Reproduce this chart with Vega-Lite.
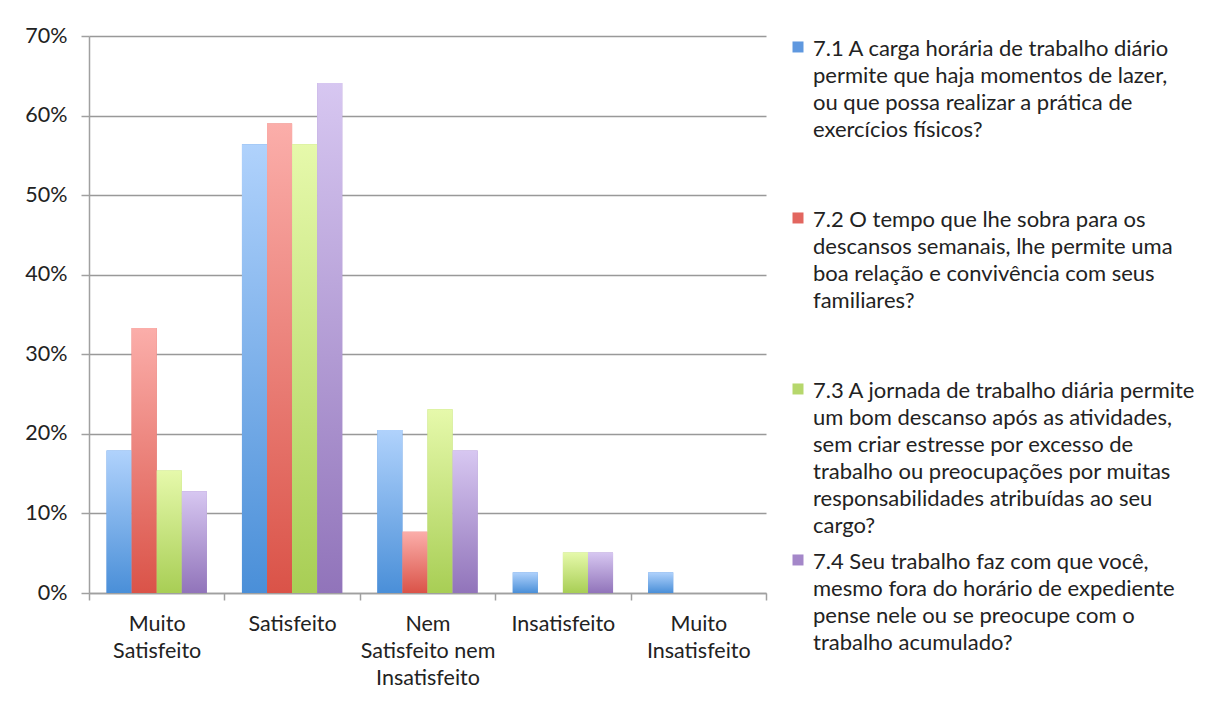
{
  "$schema": "https://vega.github.io/schema/vega-lite/v6.json",
  "width": 677,
  "height": 557,
  "autosize": {"type": "none"},
  "padding": {"left": 89, "top": 36, "right": 447, "bottom": 108},
  "background": "white",
  "data": {
    "values": [
      {"categoria": "Muito Satisfeito", "pergunta": "7.1", "valor": 0.179},
      {"categoria": "Muito Satisfeito", "pergunta": "7.2", "valor": 0.333},
      {"categoria": "Muito Satisfeito", "pergunta": "7.3", "valor": 0.154},
      {"categoria": "Muito Satisfeito", "pergunta": "7.4", "valor": 0.128},
      {"categoria": "Satisfeito", "pergunta": "7.1", "valor": 0.564},
      {"categoria": "Satisfeito", "pergunta": "7.2", "valor": 0.590},
      {"categoria": "Satisfeito", "pergunta": "7.3", "valor": 0.564},
      {"categoria": "Satisfeito", "pergunta": "7.4", "valor": 0.641},
      {"categoria": "Nem Satisfeito nem Insatisfeito", "pergunta": "7.1", "valor": 0.205},
      {"categoria": "Nem Satisfeito nem Insatisfeito", "pergunta": "7.2", "valor": 0.077},
      {"categoria": "Nem Satisfeito nem Insatisfeito", "pergunta": "7.3", "valor": 0.231},
      {"categoria": "Nem Satisfeito nem Insatisfeito", "pergunta": "7.4", "valor": 0.179},
      {"categoria": "Insatisfeito", "pergunta": "7.1", "valor": 0.026},
      {"categoria": "Insatisfeito", "pergunta": "7.2", "valor": 0.0},
      {"categoria": "Insatisfeito", "pergunta": "7.3", "valor": 0.051},
      {"categoria": "Insatisfeito", "pergunta": "7.4", "valor": 0.051},
      {"categoria": "Muito Insatisfeito", "pergunta": "7.1", "valor": 0.026},
      {"categoria": "Muito Insatisfeito", "pergunta": "7.2", "valor": 0.0},
      {"categoria": "Muito Insatisfeito", "pergunta": "7.3", "valor": 0.0},
      {"categoria": "Muito Insatisfeito", "pergunta": "7.4", "valor": 0.0}
    ]
  },
  "encoding": {
    "x": {
      "field": "categoria",
      "type": "nominal",
      "sort": ["Muito Satisfeito", "Satisfeito", "Nem Satisfeito nem Insatisfeito", "Insatisfeito", "Muito Insatisfeito"],
      "scale": {"paddingInner": 0, "paddingOuter": 0},
      "axis": {
        "title": null,
        "labelAngle": 0,
        "tickBand": "extent",
        "tickSize": 7,
        "labelPadding": 13,
        "labelBaseline": "top",
        "labelExpr": "datum.value == 'Muito Satisfeito' ? ['Muito', 'Satisfeito'] : datum.value == 'Nem Satisfeito nem Insatisfeito' ? ['Nem', 'Satisfeito nem', 'Insatisfeito'] : datum.value == 'Muito Insatisfeito' ? ['Muito', 'Insatisfeito'] : datum.value"
      }
    },
    "xOffset": {
      "field": "pergunta",
      "type": "nominal",
      "sort": ["7.1", "7.2", "7.3", "7.4"],
      "scale": {"paddingInner": 0, "paddingOuter": 0.7}
    },
    "y": {
      "field": "valor",
      "type": "quantitative",
      "scale": {"domain": [0, 0.7], "nice": false},
      "axis": {
        "title": null,
        "format": ".0%",
        "values": [0, 0.1, 0.2, 0.3, 0.4, 0.5, 0.6, 0.7],
        "tickSize": 8,
        "labelPadding": 14
      }
    }
  },
  "layer": [
    {
      "mark": {"type": "bar"},
      "encoding": {
        "fill": {
          "field": "pergunta",
          "type": "nominal",
          "sort": ["7.1", "7.2", "7.3", "7.4"],
          "scale": {"range": ["#5f98df", "#e2665f", "#b6d76c", "#a487c9"]},
          "legend": {
            "title": null,
            "orient": "none",
            "legendX": 698,
            "legendY": -8,
            "padding": 0,
            "symbolType": "M-1,0.45H1V2.45H-1Z",
            "symbolSize": 121,
            "symbolStrokeWidth": 0,
            "labelLimit": 0,
            "labelOffset": 4,
            "labelBaseline": "top",
            "rowPadding": 4,
            "labelExpr": "datum.value == '7.1' ? ['7.1 A carga horária de trabalho diário', 'permite que haja momentos de lazer,', 'ou que possa realizar a prática de', 'exercícios físicos?', '', ''] : datum.value == '7.2' ? ['7.2 O tempo que lhe sobra para os', 'descansos semanais, lhe permite uma', 'boa relação e convivência com seus', 'familiares?', '', ''] : datum.value == '7.3' ? ['7.3 A jornada de trabalho diária permite', 'um bom descanso após as atividades,', 'sem criar estresse por excesso de', 'trabalho ou preocupações por muitas', 'responsabilidades atribuídas ao seu', 'cargo?'] : ['7.4 Seu trabalho faz com que você,', 'mesmo fora do horário de expediente', 'pense nele ou se preocupe com o', 'trabalho acumulado?']"
          }
        }
      }
    },
    {
      "mark": {"type": "bar"},
      "encoding": {
        "fill": {
          "condition": [
            {"test": "datum.pergunta == '7.1'", "value": {"gradient": "linear", "x1": 0, "y1": 0, "x2": 0, "y2": 1, "stops": [{"offset": 0, "color": "#b0d2fc"}, {"offset": 1, "color": "#4a8fd8"}]}},
            {"test": "datum.pergunta == '7.2'", "value": {"gradient": "linear", "x1": 0, "y1": 0, "x2": 0, "y2": 1, "stops": [{"offset": 0, "color": "#fbaeaa"}, {"offset": 1, "color": "#da5348"}]}},
            {"test": "datum.pergunta == '7.3'", "value": {"gradient": "linear", "x1": 0, "y1": 0, "x2": 0, "y2": 1, "stops": [{"offset": 0, "color": "#e6f9ab"}, {"offset": 1, "color": "#a8ce55"}]}}
          ],
          "value": {"gradient": "linear", "x1": 0, "y1": 0, "x2": 0, "y2": 1, "stops": [{"offset": 0, "color": "#d7c7f1"}, {"offset": 1, "color": "#9174ba"}]}
        }
      }
    }
  ],
  "config": {
    "font": "Lato",
    "view": {"stroke": null},
    "style": {"guide-label": {"lineHeight": 27}},
    "axis": {
      "labelFont": "Lato",
      "labelFontSize": 21.5,
      "labelColor": "#222222",
      "domainColor": "#a0a0a0",
      "domainWidth": 1.5,
      "tickColor": "#a0a0a0",
      "tickWidth": 1.5,
      "gridColor": "#999999",
      "gridWidth": 1.5
    },
    "legend": {
      "labelFont": "Lato",
      "labelFontSize": 22,
      "labelColor": "#222222"
    }
  }
}
